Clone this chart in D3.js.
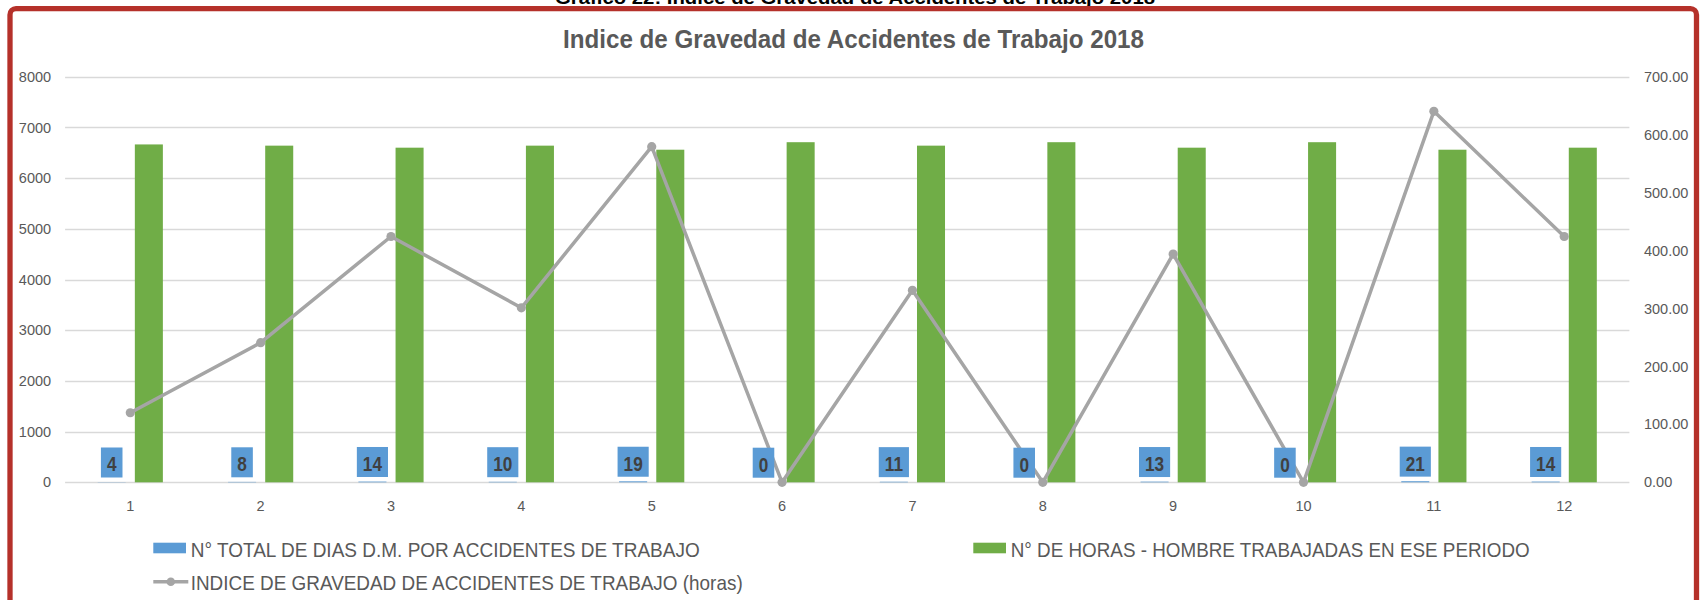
<!DOCTYPE html>
<html>
<head>
<meta charset="utf-8">
<script src="https://cdn.jsdelivr.net/npm/d3@7"></script>
<style>
  html, body { margin: 0; padding: 0; background: #fff; overflow: hidden; }
  svg { display: block; }
  text { font-family: "Liberation Sans", Arial, sans-serif; }
</style>
</head>
<body>
<svg id="chart" width="1702" height="600"></svg>
<script>
// ---------------- DATA ----------------
const categories = ["1","2","3","4","5","6","7","8","9","10","11","12"];
const diasDM = [4, 8, 14, 10, 19, 0, 11, 0, 13, 0, 21, 14];
const horasHombre = [6664, 6640, 6600, 6640, 6560, 6708, 6640, 6708, 6600, 6708, 6560, 6600];
const indiceGravedad = [120.0, 241.0, 424.2, 301.2, 579.3, 0, 331.3, 0, 393.9, 0, 640.2, 424.2];
const leftTicks = [0, 1000, 2000, 3000, 4000, 5000, 6000, 7000, 8000];
const rightTicks = [0, 100, 200, 300, 400, 500, 600, 700];
const seriesNames = [
  "N° TOTAL DE DIAS D.M. POR ACCIDENTES DE TRABAJO",
  "N° DE HORAS - HOMBRE TRABAJADAS EN ESE PERIODO",
  "INDICE DE GRAVEDAD DE ACCIDENTES DE TRABAJO (horas)"
];
const chartTitle = "Indice de Gravedad de Accidentes de Trabajo 2018";
const captionTitle = "Gráfico 22: Indice de Gravedad de Accidentes de Trabajo 2018";

// ---------------- LAYOUT ----------------
const C = { blue: "#5B9BD5", green: "#70AD47", line: "#A5A5A5", grid: "#D9D9D9", text: "#595959", label: "#404040", red: "#B5312A" };
const plot = { left: 65.1, right: 1629.4, top: 76.7, bottom: 482.3 };

const svg = d3.select("#chart");

// caption (clipped at top of page, as in the reference)
svg.append("text")
  .attr("x", 855).attr("y", 3.5)
  .attr("text-anchor", "middle")
  .attr("font-size", 19).attr("font-weight", "bold").attr("fill", "#000")
  .attr("textLength", 600).attr("lengthAdjust", "spacingAndGlyphs")
  .text(captionTitle);

// border
svg.append("rect")
  .attr("x", 10).attr("y", 8.7).attr("width", 1686.5).attr("height", 620)
  .attr("rx", 6).attr("fill", "none")
  .attr("stroke", C.red).attr("stroke-width", 5.3);

// title
svg.append("text")
  .attr("x", 853.5).attr("y", 47.5)
  .attr("text-anchor", "middle")
  .attr("font-size", 25).attr("font-weight", "bold").attr("fill", C.text)
  .attr("textLength", 581).attr("lengthAdjust", "spacingAndGlyphs")
  .text(chartTitle);

// scales
const x = d3.scaleBand().domain(categories).range([plot.left, plot.right]).paddingInner(0).paddingOuter(0);
const yL = d3.scaleLinear().domain([0, 8000]).range([plot.bottom, plot.top]);
const yR = d3.scaleLinear().domain([0, 700]).range([plot.bottom, plot.top]);

const step = x.bandwidth();
const barW = step * 0.215;
const gap = step * 0.07;
const cx = c => x(c) + step / 2;

// gridlines
svg.append("g").selectAll("line").data(leftTicks).join("line")
  .attr("x1", plot.left).attr("x2", plot.right)
  .attr("y1", d => Math.round(yL(d)) + 0.5).attr("y2", d => Math.round(yL(d)) + 0.5)
  .attr("stroke", C.grid).attr("stroke-width", 1.3);

// axes
const axL = svg.append("g").attr("transform", `translate(${plot.left},0)`)
  .call(d3.axisLeft(yL).tickValues(leftTicks).tickSize(0).tickPadding(14).tickFormat(d3.format("d")));
const axR = svg.append("g").attr("transform", `translate(${plot.right},0)`)
  .call(d3.axisRight(yR).tickValues(rightTicks).tickSize(0).tickPadding(14.6).tickFormat(d3.format(".2f")));
const axB = svg.append("g").attr("transform", `translate(0,${plot.bottom})`)
  .call(d3.axisBottom(x).tickSize(0).tickPadding(18.7));
[axL, axR, axB].forEach(a => {
  a.select(".domain").remove();
  a.selectAll("text").attr("font-size", 14.5).attr("fill", C.text)
    .style("font-family", '"Liberation Sans", Arial, sans-serif');
});

// bars - blue (días)
svg.append("g").selectAll("rect").data(categories).join("rect")
  .attr("x", (c) => cx(c) - gap / 2 - barW)
  .attr("width", barW)
  .attr("y", (c, i) => yL(diasDM[i]))
  .attr("height", (c, i) => yL(0) - yL(diasDM[i]))
  .attr("fill", C.blue);

// bars - green (horas)
svg.append("g").selectAll("rect").data(categories).join("rect")
  .attr("x", (c) => cx(c) + gap / 2)
  .attr("width", barW)
  .attr("y", (c, i) => yL(horasHombre[i]))
  .attr("height", (c, i) => yL(0) - yL(horasHombre[i]))
  .attr("fill", C.green);

// line
const lineGen = d3.line().x((d, i) => cx(categories[i])).y(d => yR(d));
svg.append("path").datum(indiceGravedad)
  .attr("d", lineGen).attr("fill", "none")
  .attr("stroke", C.line).attr("stroke-width", 3.5).attr("stroke-linejoin", "round");
svg.append("g").selectAll("circle").data(indiceGravedad).join("circle")
  .attr("cx", (d, i) => cx(categories[i])).attr("cy", d => yR(d))
  .attr("r", 4.6).attr("fill", C.line);

// data labels for blue bars
const lbl = svg.append("g").selectAll("g").data(categories).join("g")
  .attr("transform", (c, i) => `translate(${cx(c) - gap / 2 - barW / 2},${yL(diasDM[i]) - 4.6})`);
lbl.each(function(c, i) {
  const g = d3.select(this);
  const rect = g.append("rect").attr("fill", C.blue);
  const t = g.append("text")
    .attr("text-anchor", "middle").attr("x", 0).attr("y", -6)
    .attr("font-size", 20).attr("font-weight", "bold").attr("fill", C.label)
    .text(diasDM[i]);
  const w = t.node().getComputedTextLength() * 0.86;
  t.attr("textLength", w).attr("lengthAdjust", "spacingAndGlyphs");
  const bw = w + 12;
  rect.attr("x", -bw / 2).attr("y", -30).attr("width", bw).attr("height", 30);
});

// legend
const legendItems = [
  { name: seriesNames[0], type: "bar", color: C.blue, x: 153.3, y: 548, len: 509 },
  { name: seriesNames[1], type: "bar", color: C.green, x: 973.3, y: 548, len: 519 },
  { name: seriesNames[2], type: "line", color: C.line, x: 153.3, y: 581.7, len: 552 }
];
const lg = svg.append("g").selectAll("g").data(legendItems).join("g")
  .attr("transform", d => `translate(${d.x},${d.y})`);
lg.each(function(d) {
  const g = d3.select(this);
  if (d.type === "bar") {
    g.append("rect").attr("x", 0).attr("y", -5.3).attr("width", 32.7).attr("height", 10.6).attr("fill", d.color);
  } else {
    g.append("line").attr("x1", 0).attr("x2", 35).attr("y1", 0).attr("y2", 0)
      .attr("stroke", d.color).attr("stroke-width", 3.5);
    g.append("circle").attr("cx", 17.5).attr("cy", 0).attr("r", 4.3).attr("fill", d.color);
  }
  g.append("text").attr("x", 37.4).attr("y", 8.5)
    .attr("font-size", 21).attr("fill", C.text)
    .attr("textLength", d.len).attr("lengthAdjust", "spacingAndGlyphs")
    .text(d.name);
});
</script>
</body>
</html>
